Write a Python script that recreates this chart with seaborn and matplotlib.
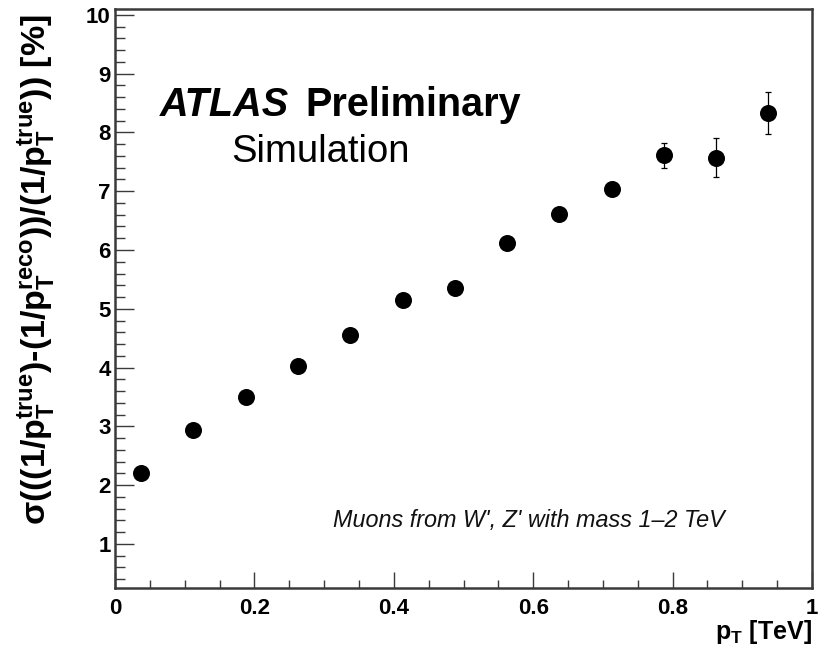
import numpy as np
import pandas as pd
import matplotlib
matplotlib.use("Agg")
import matplotlib.pyplot as plt
from matplotlib.ticker import MultipleLocator, FixedLocator
import seaborn as sns

# Muon momentum resolution vs pT (bin centres in TeV, resolution in %)
pt_tev = [0.0375, 0.1125, 0.1875, 0.2625, 0.3375, 0.4125, 0.4875,
          0.5625, 0.6375, 0.7125, 0.7875, 0.8625, 0.9375]
resolution = [2.21, 2.93, 3.50, 4.03, 4.55, 5.15, 5.35,
              6.12, 6.61, 7.04, 7.61, 7.57, 8.33]
resolution_err = [0.02, 0.03, 0.03, 0.04, 0.05, 0.06, 0.07,
                  0.08, 0.09, 0.11, 0.21, 0.33, 0.36]

x_ticks = [0, 0.2, 0.4, 0.6, 0.8, 1]
x_tick_labels = ["0", "0.2", "0.4", "0.6", "0.8", "1"]
y_ticks = [1, 2, 3, 4, 5, 6, 7, 8, 9, 10]
y_tick_labels = [str(v) for v in y_ticks]

df = pd.DataFrame({"pt": pt_tev, "res": resolution, "err": resolution_err})

sns.set_theme(style="ticks")
plt.rcParams["font.family"] = ["Liberation Sans", "DejaVu Sans"]
plt.rcParams["text.color"] = "black"
plt.rcParams["mathtext.fontset"] = "custom"
plt.rcParams["mathtext.rm"] = "Liberation Sans:bold"
plt.rcParams["mathtext.bf"] = "Liberation Sans:bold"
plt.rcParams["mathtext.it"] = "Liberation Sans:italic:bold"
plt.rcParams["mathtext.default"] = "bf"

DPI = 100
fig = plt.figure(figsize=(8.24, 6.62), dpi=DPI)
ax = fig.add_axes([115 / 824, 1 - 588 / 662, (812 - 115) / 824, (588 - 9) / 662])

frame_color = "#3a3a3a"

ax.errorbar(df["pt"], df["res"], yerr=df["err"], fmt="none",
            ecolor="black", elinewidth=0.9, capsize=2.5, capthick=0.9, zorder=2)
sns.scatterplot(data=df, x="pt", y="res", ax=ax, color="black", s=150,
                marker="o", edgecolor="black", linewidth=0, zorder=3, legend=False)

ax.set_xlim(0, 1)
ax.set_ylim(0.25, 10.1)

ax.xaxis.set_major_locator(FixedLocator(x_ticks))
ax.set_xticklabels(x_tick_labels)
ax.xaxis.set_minor_locator(MultipleLocator(0.05))
ax.yaxis.set_major_locator(FixedLocator(y_ticks))
ax.set_yticklabels(y_tick_labels)
ax.yaxis.set_minor_locator(MultipleLocator(0.2))

for side in ["left", "bottom", "right", "top"]:
    ax.spines[side].set_visible(True)
    ax.spines[side].set_linewidth(1.8)
    ax.spines[side].set_color(frame_color)

ax.tick_params(axis="x", which="major", direction="in", length=11.5, width=1.0,
               color=frame_color, labelsize=16, pad=7, top=False)
ax.tick_params(axis="x", which="minor", direction="in", length=5.8, width=1.0,
               color=frame_color, top=False)
ax.tick_params(axis="y", which="major", direction="in", length=14, width=1.0,
               color=frame_color, labelsize=16, pad=3, right=False)
ax.tick_params(axis="y", which="minor", direction="in", length=7, width=1.0,
               color=frame_color, right=False)
for lab in ax.get_xticklabels() + ax.get_yticklabels():
    lab.set_fontweight("bold")
    lab.set_color("black")

ax.set_xlabel("")
ax.set_ylabel("")

# Axis titles
fig.text(812 / 824, 1 - 632 / 662, r"$p_{T}$ [TeV]", ha="right", va="center",
         fontsize=18, fontweight="bold", color="black")
fig.text(37 / 824, 1 - 14 / 662,
         r"$\mathrm{\sigma}(((1/p_{T}^{true})$-$(1/p_{T}^{reco}))/(1/p_{T}^{true}))$ [%]",
         rotation=90, ha="center", va="top", fontsize=24.5, fontweight="bold",
         color="black")

# Labels inside the frame
ax.text(160 / 824, 1 - 105 / 662, "ATLAS", transform=fig.transFigure,
        fontsize=28.5, fontweight="bold", fontstyle="italic", ha="left",
        va="center", color="black")
ax.text(305 / 824, 1 - 105 / 662, "Preliminary", transform=fig.transFigure,
        fontsize=28.5, fontweight="bold", ha="left", va="center", color="black")
ax.text(231 / 824, 1 - 152 / 662, "Simulation", transform=fig.transFigure,
        fontsize=27.5, ha="left", va="center", color="black")
ax.text(333 / 824, 1 - 520 / 662, "Muons from W', Z' with mass 1\u20132 TeV",
        transform=fig.transFigure, fontsize=16.8, fontstyle="italic",
        ha="left", va="center", color="#111111")

fig.savefig("out.png", dpi=DPI)
